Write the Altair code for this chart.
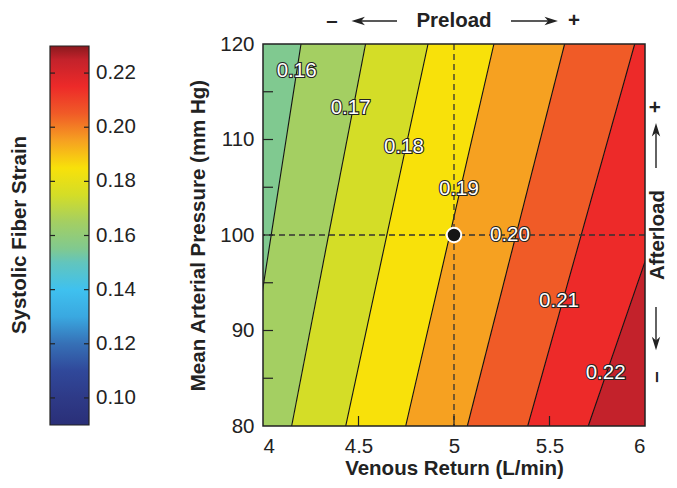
import altair as alt
import pandas as pd

# ---------------- data ----------------
# contour levels; each contour is a straight line, given by where it crosses
# the bottom (80 mm Hg) and the top (120 mm Hg) of the plot (venous return, L/min)
levels = [0.16, 0.17, 0.18, 0.19, 0.20, 0.21, 0.22]
vr_at_80 = [3.887, 4.150, 4.433, 4.747, 5.070, 5.386, 5.703]
vr_at_120 = [4.199, 4.537, 4.864, 5.209, 5.579, 5.946, 6.393]
map_edges = [80, 120]
vr_outer = [3.5, 6.6]          # outer limits of the first / last band (clipped away)

# value that colours each filled band (between consecutive levels)
band_values = [0.155, 0.165, 0.175, 0.185, 0.195, 0.205, 0.215, 0.225]

# inline contour labels
label_text = ["0.16", "0.17", "0.18", "0.19", "0.20", "0.21", "0.22"]
label_vr = [4.176, 4.459, 4.738, 5.026, 5.293, 5.550, 5.794]
label_map = [117.2, 113.3, 109.2, 104.8, 100.0, 93.1, 85.6]

# baseline operating point
base_vr = [5.0]
base_map = [100.0]

# axes
x_ticks = [4, 4.5, 5, 5.5, 6]
y_ticks = [80, 90, 100, 110, 120]
x_inner_ticks = [4.5, 5.0, 5.5]
y_inner_ticks = [85, 90, 95, 100, 105, 110, 115]
cbar_ticks = [0.10, 0.12, 0.14, 0.16, 0.18, 0.20, 0.22]
cbar_domain = [0.09, 0.23]

# colour map (systolic fiber strain)
cmap_stops = [0.09, 0.10, 0.11, 0.12, 0.13, 0.14, 0.15, 0.155, 0.165, 0.175,
              0.185, 0.195, 0.205, 0.215, 0.225, 0.23]
cmap_colors = ["#2a2f78", "#2e3a87", "#30489a", "#3670b6", "#3aa8e0", "#3fc1ef",
               "#62c5bd", "#80c990", "#a4cf62", "#d4dd27", "#f8e10a", "#f6a121",
               "#f05b27", "#ed2a29", "#c3222b", "#8a191e"]

# ---------------- tables ----------------
rows = []
for i, v in enumerate(band_values):
    for j, m in enumerate(map_edges):
        edge = vr_at_80 if j == 0 else vr_at_120
        left = vr_outer[0] if i == 0 else edge[i - 1]
        right = vr_outer[1] if i == len(band_values) - 1 else edge[i]
        rows.append({"band": i, "strain": v, "MAP": m, "left": left, "right": right})
bands = pd.DataFrame(rows)

line_rows = []
for k, lv in enumerate(levels):
    line_rows.append({"level": lv, "MAP": map_edges[0], "VR": vr_at_80[k]})
    line_rows.append({"level": lv, "MAP": map_edges[1], "VR": vr_at_120[k]})
lines_df = pd.DataFrame(line_rows)

labels_df = pd.DataFrame({"txt": label_text, "VR": label_vr, "MAP": label_map})
base_df = pd.DataFrame({"VR": base_vr, "MAP": base_map})
xt_df = pd.DataFrame({"VR": x_inner_ticks})
yt_df = pd.DataFrame({"MAP": y_inner_ticks})
cb_df = pd.DataFrame({"s": cbar_ticks})
cb_box = pd.DataFrame({"lo": [cbar_domain[0]], "hi": [cbar_domain[1]]})
one = pd.DataFrame({"k": [0]})

FONT = "Liberation Sans"
INK = "#222222"
FS = 20.5
W = H = 382
CB_X0, CB_X1 = -213, -174        # colour bar left / right edge (plot-relative px)
CB_TOP, CB_LEN = 2, 379

xs = alt.Scale(domain=[4, 6], nice=False, zero=False)
ys = alt.Scale(domain=[80, 120], nice=False, zero=False)
cscale = alt.Scale(domain=cmap_stops, range=cmap_colors, interpolate="rgb")
cbs = alt.Scale(domain=cbar_domain, range=[CB_TOP + CB_LEN, CB_TOP], nice=False, zero=False)

x_axis = alt.Axis(values=x_ticks, format="~g", title="Venous Return (L/min)",
                  grid=False, domain=False, ticks=False, tickSize=0,
                  labelFont=FONT, labelFontSize=FS, labelColor=INK, labelPadding=10,
                  titleFont=FONT, titleFontSize=FS, titleFontWeight="bold", titleColor=INK,
                  titleY=42, titleBaseline="middle")
y_axis = alt.Axis(values=y_ticks, format="d", title="Mean Arterial Pressure (mm Hg)",
                  grid=False, domain=False, ticks=False, tickSize=0,
                  labelFont=FONT, labelFontSize=FS, labelColor=INK, labelPadding=9,
                  titleFont=FONT, titleFontSize=FS, titleFontWeight="bold", titleColor=INK,
                  titleX=-65, titleY=191, titleAngle=270, titleBaseline="middle",
                  titleAlign="center")


def Y(field="MAP:Q"):
    return alt.Y(field, scale=ys, axis=None)


areas = alt.Chart(bands).mark_area(orient="horizontal", clip=True, opacity=1).encode(
    y=alt.Y("MAP:Q", scale=ys, axis=y_axis),
    x=alt.X("left:Q", scale=xs, axis=x_axis),
    x2="right:Q",
    color=alt.Color("strain:Q", scale=cscale, legend=None),
    detail="band:N",
)

contours = alt.Chart(lines_df).mark_line(clip=True, color="#111111", strokeWidth=1.1).encode(
    x=alt.X("VR:Q", scale=xs), y=Y(), detail="level:N")

vdash = alt.Chart(base_df).mark_rule(strokeDash=[6, 4], color="#333333", strokeWidth=1.3).encode(
    x=alt.X("VR:Q", scale=xs))
hdash = alt.Chart(base_df).mark_rule(strokeDash=[6, 4], color="#333333", strokeWidth=1.3).encode(
    y=Y())

dot = alt.Chart(base_df).mark_circle(size=210, color="#161616", opacity=1,
                                     stroke="white", strokeWidth=2).encode(
    x=alt.X("VR:Q", scale=xs), y=Y())

lab_halo = alt.Chart(labels_df).mark_text(font=FONT, fontSize=FS, fill=INK, stroke=INK,
                                          strokeWidth=2.2, align="center",
                                          baseline="middle").encode(
    x=alt.X("VR:Q", scale=xs), y=Y(), text="txt:N")
lab_fill = alt.Chart(labels_df).mark_text(font=FONT, fontSize=FS, fill="white",
                                          align="center", baseline="middle").encode(
    x=alt.X("VR:Q", scale=xs), y=Y(), text="txt:N")

xticks_in = alt.Chart(xt_df).mark_rule(color=INK, strokeWidth=1.2).encode(
    x=alt.X("VR:Q", scale=xs), y=alt.value(H), y2=alt.value(H - 10))
yticks_in = alt.Chart(yt_df).mark_rule(color=INK, strokeWidth=1.2).encode(
    y=Y(), x=alt.value(0), x2=alt.value(10))

# ---- colour bar: gradient rectangle, ticks on both inner edges, labels ----
span = cbar_domain[1] - cbar_domain[0]
grad = alt.Gradient(
    gradient="linear",
    stops=[alt.GradientStop(offset=(s - cbar_domain[0]) / span, color=c)
           for s, c in zip(cmap_stops, cmap_colors)],
    x1=0, x2=0, y1=1, y2=0,
)
cb_rect = alt.Chart(cb_box).mark_rect(color=grad, stroke=INK, strokeWidth=1.2).encode(
    y=alt.Y("lo:Q", scale=cbs, axis=None), y2="hi:Q",
    x=alt.value(CB_X0), x2=alt.value(CB_X1))
cb_ticks_l = alt.Chart(cb_df).mark_rule(color=INK, strokeWidth=1.2).encode(
    y=alt.Y("s:Q", scale=cbs, axis=None), x=alt.value(CB_X0), x2=alt.value(CB_X0 + 5))
cb_ticks_r = alt.Chart(cb_df).mark_rule(color=INK, strokeWidth=1.2).encode(
    y=alt.Y("s:Q", scale=cbs, axis=None), x=alt.value(CB_X1 - 5), x2=alt.value(CB_X1))
cb_labels = alt.Chart(cb_df).mark_text(font=FONT, fontSize=FS, color=INK, align="left",
                                       baseline="middle").encode(
    y=alt.Y("s:Q", scale=cbs, axis=None), x=alt.value(CB_X1 + 7),
    text=alt.Text("s:Q", format=".2f"))

frame = alt.Chart(one).mark_rect(filled=False, stroke=INK, strokeWidth=1.5).encode(
    x=alt.value(0), x2=alt.value(W), y=alt.value(0), y2=alt.value(H))


def note(txt, x, y, angle=0, bold=True):
    return alt.Chart(one).mark_text(text=txt, font=FONT, fontSize=FS,
                                    fontWeight="bold" if bold else "normal",
                                    color=INK, angle=angle, align="center",
                                    baseline="middle").encode(
        x=alt.value(x), y=alt.value(y))


def arrow_line(x1, y1, x2, y2):
    return alt.Chart(one).mark_rule(color=INK, strokeWidth=1.4).encode(
        x=alt.value(x1), x2=alt.value(x2), y=alt.value(y1), y2=alt.value(y2))


HEAD = "M-1,0 L1,-0.62 L0.45,0 L1,0.62 Z"   # stealth arrow head pointing left


def arrow_head(x, y, angle):
    return alt.Chart(one).mark_point(shape=HEAD, filled=True, size=180, color=INK,
                                     opacity=1, angle=angle).encode(
        x=alt.value(x), y=alt.value(y))


RX = 393   # x of the right-hand (afterload) annotations
notes = [
    note("Systolic Fiber Strain", -243, 191, angle=270),
    note("Preload", 191, -23),
    note("–", 69, -23),
    note("+", 311, -23),
    arrow_line(96, -23, 134, -23), arrow_head(95.2, -23, 0),
    arrow_line(248, -23, 288, -23), arrow_head(288.2, -23, 180),
    note("Afterload", RX + 2, 191, angle=270),
    note("+", RX, 63, angle=270),
    note("–", RX, 333, angle=270),
    arrow_line(RX, 86, RX, 124), arrow_head(RX, 85.8, 90),
    arrow_line(RX, 263, RX, 300), arrow_head(RX, 299.5, 270),
]

chart = alt.layer(
    areas, contours, vdash, hdash, xticks_in, yticks_in, frame,
    cb_rect, cb_ticks_l, cb_ticks_r, cb_labels,
    dot, lab_halo, lab_fill, *notes
).resolve_scale(y="independent").properties(
    width=W, height=H,
    autosize=alt.AutoSizeParams(type="none"),
    padding={"left": 255, "top": 36, "right": 24, "bottom": 54},
).configure(font=FONT).configure_view(stroke=None)

chart.save("out.html", embed_options={"renderer": "svg", "actions": False})
